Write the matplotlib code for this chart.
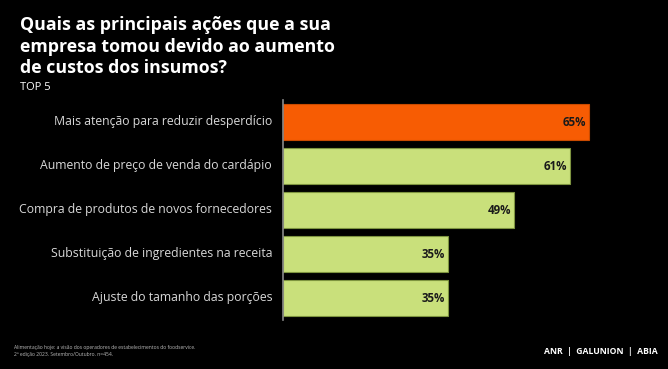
import matplotlib.pyplot as plt

categories = [
    "Mais atenção para reduzir desperdício",
    "Aumento de preço de venda do cardápio",
    "Compra de produtos de novos fornecedores",
    "Substituição de ingredientes na receita",
    "Ajuste do tamanho das porções",
]
values = [65, 61, 49, 35, 35]
bar_colors = ["#F75C03", "#C9E07B", "#C9E07B", "#C9E07B", "#C9E07B"]
edge_colors = ["#C94A00", "#7E9440", "#7E9440", "#7E9440", "#7E9440"]

W, H = 668, 369
fig = plt.figure(figsize=(W / 100, H / 100), dpi=100, facecolor="black")

# axes placed in pixel coords: x 283..660, y 100..320 (from top)
ax = fig.add_axes([283 / W, 1 - 320 / H, (660 - 283) / W, 220 / H])
ax.set_facecolor("black")
ypos = list(range(len(values)))
ax.barh(ypos, values, height=0.82, color=bar_colors, edgecolor=edge_colors, linewidth=0.8)
ax.set_xlim(0, (660 - 283) / 4.71)
ax.set_ylim(4.5, -0.5)

for y, v in zip(ypos, values):
    ax.text(v - 0.6, y, f"{v}%", ha="right", va="center", fontsize=8.3,
            fontweight="bold", color="#1a1a1a", family="Open Sans")
for y, c in zip(ypos, categories):
    ax.text(-2.3, y, c, ha="right", va="center", fontsize=8.8,
            color="#d8d8d8", family="Open Sans")

ax.set_xticks([])
ax.set_yticks([])
for s in ["top", "right", "bottom"]:
    ax.spines[s].set_visible(False)
ax.spines["left"].set_color("#8a8a8a")
ax.spines["left"].set_linewidth(1.2)

fig.text(20 / W, 1 - 16 / H,
         "Quais as principais ações que a sua\nempresa tomou devido ao aumento\nde custos dos insumos?",
         ha="left", va="top", fontsize=12.8, fontweight="bold", color="white",
         family="Open Sans", linespacing=1.25)
fig.text(20 / W, 1 - 88 / H, "TOP 5", ha="left", va="center", fontsize=8,
         color="white", family="Open Sans")

fig.text(14 / W, 1 - 351 / H,
         "Alimentação hoje: a visão dos operadores de estabelecimentos do foodservice.\n2ª edição 2023. Setembro/Outubro. n=454.",
         ha="left", va="center", fontsize=3.6, color="#bbbbbb", family="Open Sans",
         linespacing=1.3)
fig.text(658 / W, 1 - 352 / H, "ANR  |  GALUNION  |  ABIA", ha="right", va="center",
         fontsize=6.2, fontweight="bold", color="white", family="Open Sans")

fig.savefig("out.png", dpi=100, facecolor="black")
